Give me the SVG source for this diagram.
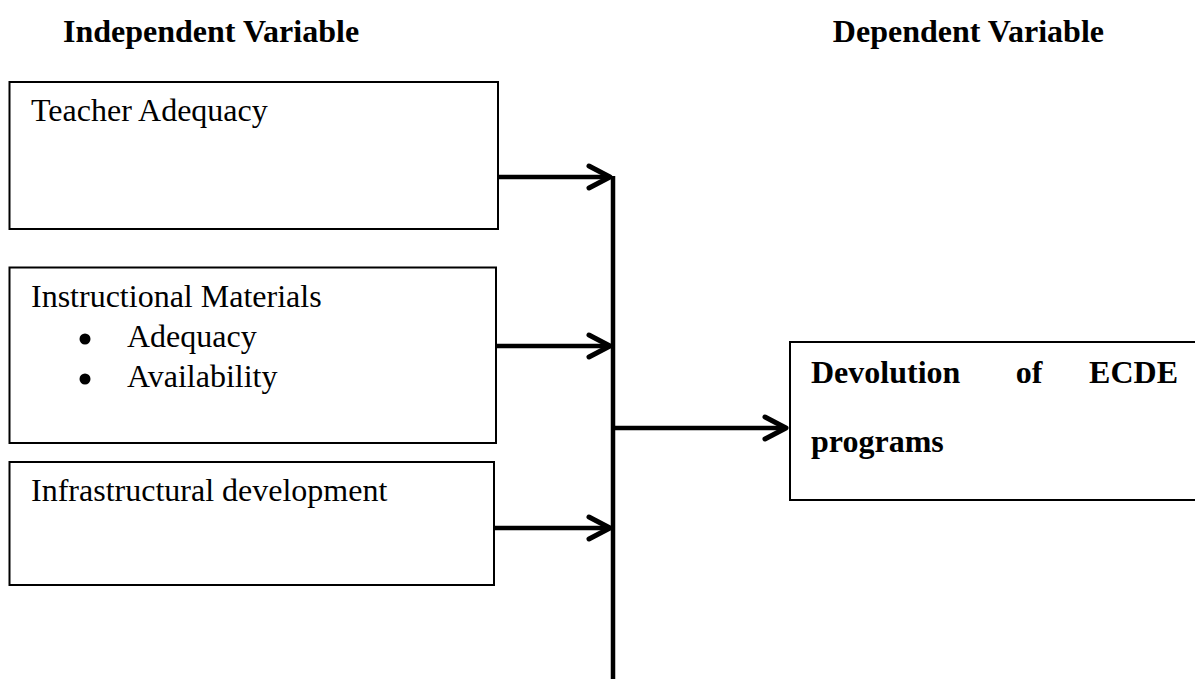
<svg xmlns="http://www.w3.org/2000/svg" width="1195" height="679" viewBox="0 0 1195 679">
<style>
.box{fill:#fff;stroke:#000;stroke-width:2}
.t{font-family:"Liberation Serif","Times New Roman",serif;font-size:32px;fill:#000}
.b{font-weight:bold}
.ln{stroke:#000;stroke-width:4.5;fill:none}
.hd{stroke:#000;stroke-width:5;fill:none;stroke-linecap:round;stroke-linejoin:round}
</style>
<rect width="1195" height="679" fill="#fff"/>
<g id="headings">
<text class="t b" x="63" y="42">Independent Variable</text>
<text class="t b" x="1104" y="42" text-anchor="end">Dependent Variable</text>
</g>
<g id="node-teacher">
<rect class="box" x="9.5" y="82" width="488.5" height="147"/>
<text class="t" x="31" y="121">Teacher Adequacy</text>
</g>
<g id="node-materials">
<rect class="box" x="9.5" y="267.5" width="486.5" height="175.5"/>
<text class="t" x="31" y="307">Instructional Materials</text>
<circle cx="85" cy="339" r="5.5"/>
<text class="t" x="127" y="347">Adequacy</text>
<circle cx="85" cy="379" r="5.5"/>
<text class="t" x="127" y="387">Availability</text>
</g>
<g id="node-infra">
<rect class="box" x="9.5" y="462" width="484.5" height="123"/>
<text class="t" x="31" y="501">Infrastructural development</text>
</g>
<g id="node-devolution">
<rect class="box" x="790" y="342" width="420" height="158"/>
<text class="t b" x="811" y="383">Devolution</text>
<text class="t b" x="1029" y="383" text-anchor="middle">of</text>
<text class="t b" x="1178" y="383" text-anchor="end">ECDE</text>
<text class="t b" x="811" y="452">programs</text>
</g>
<g id="connectors">
<line class="ln" x1="613" y1="176" x2="613" y2="679"/>
<line class="ln" x1="498" y1="177" x2="609" y2="177"/>
<polyline class="hd" points="589,166 610,177 589,188"/>
<line class="ln" x1="496" y1="346" x2="609" y2="346"/>
<polyline class="hd" points="589,335 610,346 589,357"/>
<line class="ln" x1="494" y1="528" x2="609" y2="528"/>
<polyline class="hd" points="589,517 610,528 589,539"/>
<line class="ln" x1="613" y1="428" x2="785" y2="428"/>
<polyline class="hd" points="765,417 786,428 765,439"/>
</g>
</svg>
